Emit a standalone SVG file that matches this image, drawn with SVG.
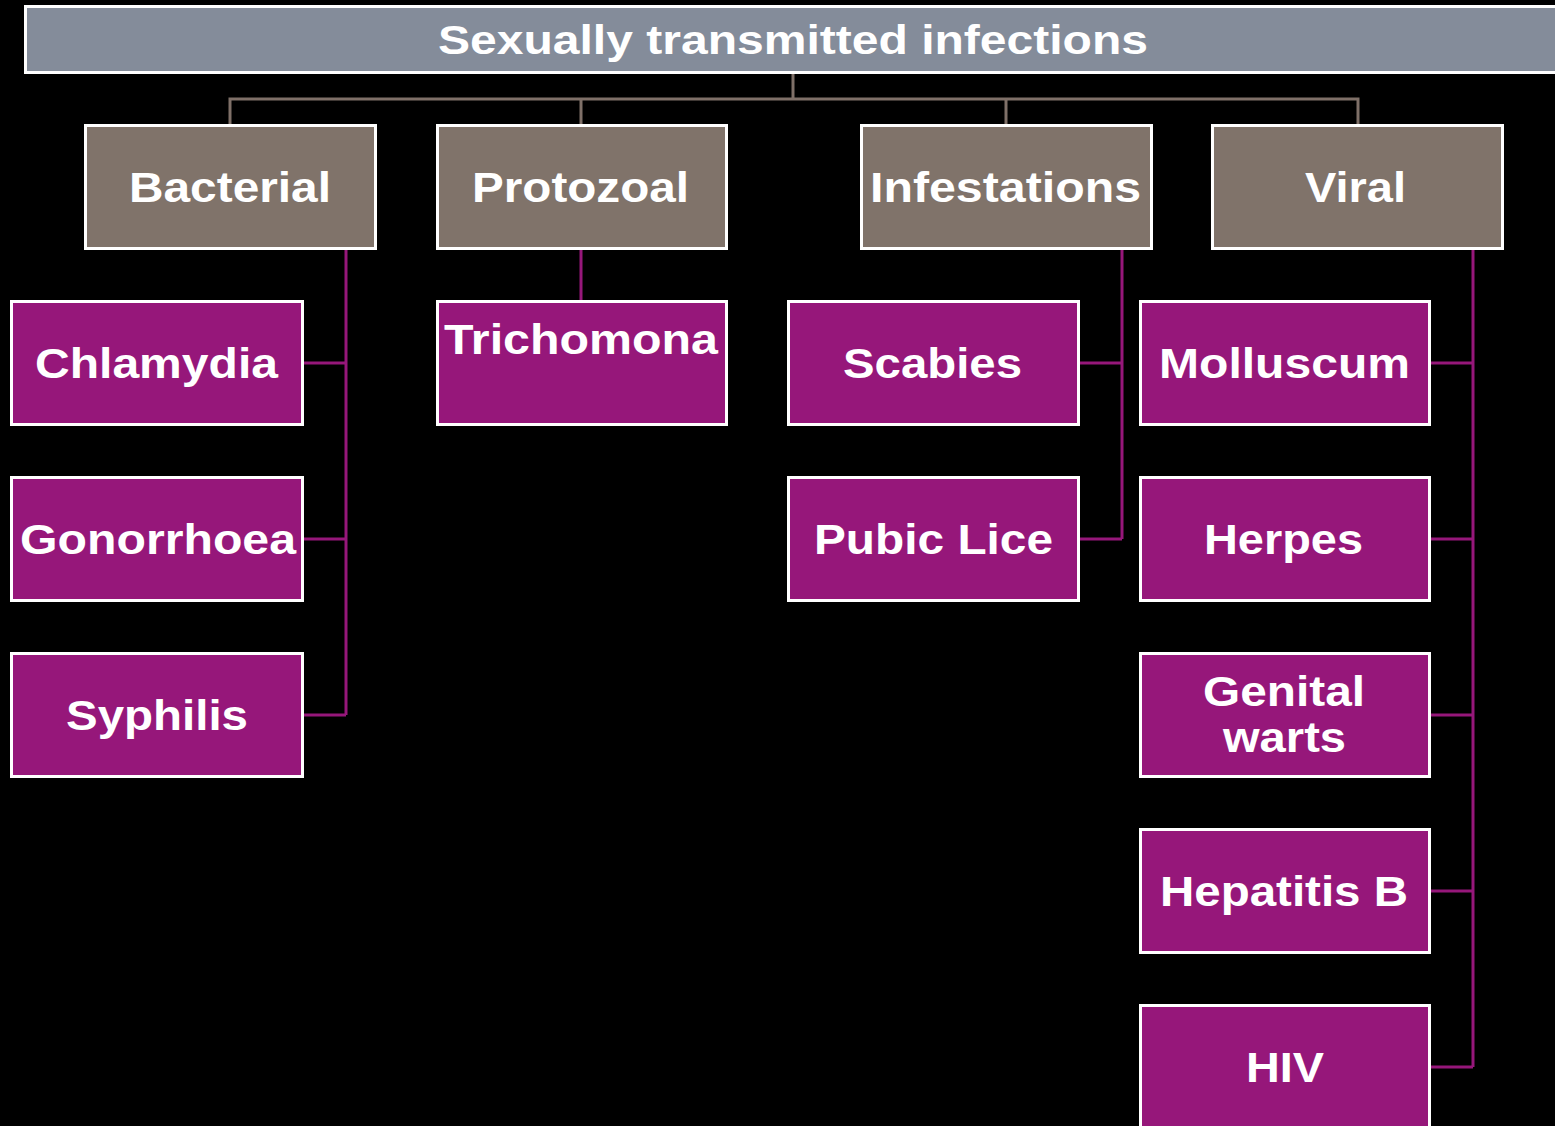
<svg xmlns="http://www.w3.org/2000/svg" width="1555" height="1126" viewBox="0 0 1555 1126">
<style>
text{font-family:"Liberation Sans",Arial,sans-serif;font-weight:bold;fill:#fff;text-anchor:middle}
.title{fill:#848c9a;stroke:#fff;stroke-width:3}
.cat{fill:#80736a;stroke:#fff;stroke-width:3}
.item{fill:#96177a;stroke:#fff;stroke-width:3}
.t1{font-size:40px}
.t2{font-size:42px}
.t3{font-size:42px}
.cb{fill:none;stroke:#7f7068;stroke-width:3}
.cp{fill:none;stroke:#96177a;stroke-width:3}
</style>
<rect width="1555" height="1126" fill="#000"/>
<g id="connectors">
<path class="cb" d="M793 73V99M230 125V99H1358V125M581 99V125M1006 99V125"/>
<path class="cp" d="M346 249V715M303 363H346M303 539H346M303 715H346"/>
<path class="cp" d="M581 249V301"/>
<path class="cp" d="M1122 249V539M1079 363H1122M1079 539H1122"/>
<path class="cp" d="M1473 249V1067M1430 363H1473M1430 539H1473M1430 715H1473M1430 891H1473M1430 1067H1473"/>
</g>
<g id="title"><rect class="title" x="25.5" y="6.5" width="1540" height="66"/><text class="t1" x="793" y="54" textLength="710" lengthAdjust="spacingAndGlyphs">Sexually transmitted infections</text></g>
<g id="bacterial"><rect class="cat" x="85.5" y="125.5" width="290" height="123"/><text class="t2" x="230" y="202" textLength="202" lengthAdjust="spacingAndGlyphs">Bacterial</text></g>
<g id="protozoal"><rect class="cat" x="437.5" y="125.5" width="289" height="123"/><text class="t2" x="580.5" y="202" textLength="217" lengthAdjust="spacingAndGlyphs">Protozoal</text></g>
<g id="infestations"><rect class="cat" x="861.5" y="125.5" width="290" height="123"/><text class="t2" x="1005.5" y="202" textLength="271" lengthAdjust="spacingAndGlyphs">Infestations</text></g>
<g id="viral"><rect class="cat" x="1212.5" y="125.5" width="290" height="123"/><text class="t2" x="1355.5" y="202" textLength="101" lengthAdjust="spacingAndGlyphs">Viral</text></g>
<g id="chlamydia"><rect class="item" x="11.5" y="301.5" width="291" height="123"/><text class="t3" x="156.5" y="378" textLength="243" lengthAdjust="spacingAndGlyphs">Chlamydia</text></g>
<g id="gonorrhoea"><rect class="item" x="11.5" y="477.5" width="291" height="123"/><text class="t3" x="158" y="554" textLength="276" lengthAdjust="spacingAndGlyphs">Gonorrhoea</text></g>
<g id="syphilis"><rect class="item" x="11.5" y="653.5" width="291" height="123"/><text class="t3" x="157" y="730" textLength="182" lengthAdjust="spacingAndGlyphs">Syphilis</text></g>
<g id="trichomona"><rect class="item" x="437.5" y="301.5" width="289" height="123"/><text class="t3" x="581" y="354" textLength="274" lengthAdjust="spacingAndGlyphs">Trichomona</text></g>
<g id="scabies"><rect class="item" x="788.5" y="301.5" width="290" height="123"/><text class="t3" x="932.5" y="378" textLength="179" lengthAdjust="spacingAndGlyphs">Scabies</text></g>
<g id="pubic-lice"><rect class="item" x="788.5" y="477.5" width="290" height="123"/><text class="t3" x="933.5" y="554" textLength="239" lengthAdjust="spacingAndGlyphs">Pubic Lice</text></g>
<g id="molluscum"><rect class="item" x="1140.5" y="301.5" width="289" height="123"/><text class="t3" x="1284.5" y="378" textLength="251" lengthAdjust="spacingAndGlyphs">Molluscum</text></g>
<g id="herpes"><rect class="item" x="1140.5" y="477.5" width="289" height="123"/><text class="t3" x="1283.5" y="554" textLength="159" lengthAdjust="spacingAndGlyphs">Herpes</text></g>
<g id="genital-warts"><rect class="item" x="1140.5" y="653.5" width="289" height="123"/><text class="t3" x="1284" y="706" textLength="162" lengthAdjust="spacingAndGlyphs">Genital</text><text class="t3" x="1284.5" y="752" textLength="123" lengthAdjust="spacingAndGlyphs">warts</text></g>
<g id="hepatitis-b"><rect class="item" x="1140.5" y="829.5" width="289" height="123"/><text class="t3" x="1284" y="906" textLength="248" lengthAdjust="spacingAndGlyphs">Hepatitis B</text></g>
<g id="hiv"><rect class="item" x="1140.5" y="1005.5" width="289" height="140"/><text class="t3" x="1285" y="1082" textLength="78" lengthAdjust="spacingAndGlyphs">HIV</text></g>
</svg>
